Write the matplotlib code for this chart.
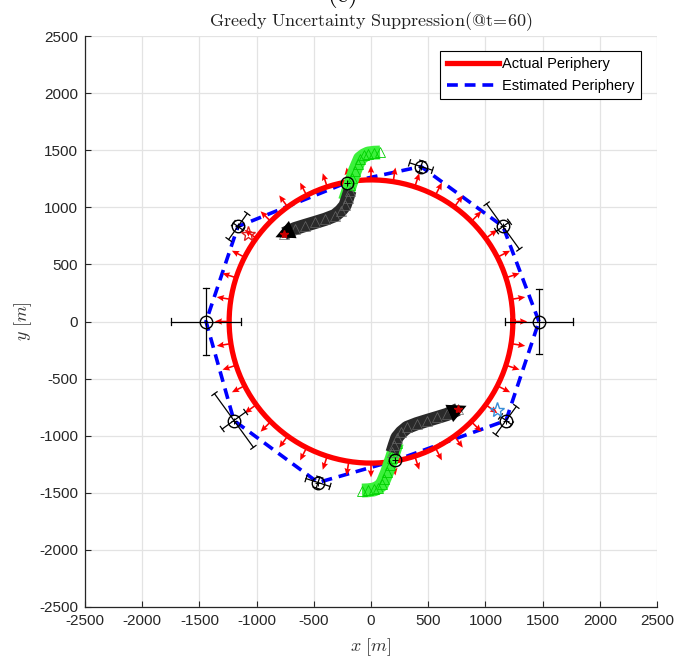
import numpy as np
import matplotlib.pyplot as plt

plt.rcParams['mathtext.fontset'] = 'cm'
plt.rcParams['font.family'] = ['Liberation Sans', 'DejaVu Sans']
plt.rcParams['axes.unicode_minus'] = False

# actual periphery (circle)
radius = 1240

# sensors (estimated positions) with tangential / radial uncertainty
sensor_x = [1468, 1154, 437, -1163, -1442, -1198, -463, 1180]
sensor_y = [0, 832, 1357, 832, 0, -867, -1410, -867]
err_tan = [285, 245, 105, 140, 290, 290, 110, 153]
err_rad = [300, 70, 50, 50, 306, 127, 50, 60]

# agents on the periphery
agent_x = [-210, 210]
agent_y = [1217, -1217]

# estimated periphery polygon (sensors + agents, ordered by angle)
est_x = [1468, 1154, 437, -210, -1163, -1442, -1198, -463, 210, 1180, 1468]
est_y = [0, 832, 1357, 1217, 832, 0, -867, -1410, -1217, -867, 0]

# agent trajectories (green = travelled, black = planned)
green_top_x = [-227, -205, -184, -162, -140, -118, -96, -60, -26, 25, 79]
green_top_y = [1060, 1125, 1191, 1256, 1322, 1375, 1427, 1455, 1471, 1478, 1480]
black_top_x = [-184, -205, -227, -265, -315, -400, -490, -580, -664, -760, -835]
black_top_y = [1147, 1080, 1016, 970, 928, 895, 867, 840, 814, 770, 738]
green_bot_x = [227, 205, 184, 162, 140, 118, 96, 60, 26, -25, -79]
green_bot_y = [-1060, -1125, -1191, -1256, -1322, -1375, -1427, -1455, -1471, -1478, -1480]
black_bot_x = [184, 205, 227, 265, 315, 400, 490, 580, 664, 760, 835]
black_bot_y = [-1147, -1080, -1016, -970, -928, -895, -867, -840, -814, -770, -738]

# stars
red_star = (-1075, 770)
blue_star = (1101, -779)

# outward arrows along the periphery
arrow_deg = np.arange(0, 360, 9)
arrow_len = 125

ticks = [-2500, -2000, -1500, -1000, -500, 0, 500, 1000, 1500, 2000, 2500]

fig = plt.figure(figsize=(6.76, 6.58), dpi=100)
ax = fig.add_axes([85 / 676, 1 - 607 / 658, 572 / 676, 571 / 658])

ax.plot(est_x, est_y, color='#0000ff', lw=2.6, ls=(0, (3.0, 1.9)), zorder=3,
        label='Estimated Periphery')
t = np.linspace(0, 2 * np.pi, 400)
ax.plot(radius * np.cos(t), radius * np.sin(t), color='#ff0000', lw=3.8, zorder=4,
        label='Actual Periphery')

a = np.deg2rad(arrow_deg)
ax.quiver(radius * np.cos(a), radius * np.sin(a), arrow_len * np.cos(a), arrow_len * np.sin(a),
          color='#ff0000', angles='xy', scale_units='xy', scale=1,
          width=0.0028, headwidth=4, headlength=4.5, headaxislength=4, zorder=5)

# error bars
cap = 28
for x, y, et, er in zip(sensor_x, sensor_y, err_tan, err_rad):
    th = np.arctan2(y, x)
    tv = np.array([-np.sin(th), np.cos(th)])
    rv = np.array([np.cos(th), np.sin(th)])
    p = np.array([x, y])
    for e, d, n in [(et, tv, rv), (er, rv, tv)]:
        a0, a1 = p - e * d, p + e * d
        ax.plot([a0[0], a1[0]], [a0[1], a1[1]], color='k', lw=0.9, zorder=6)
        for q in (a0, a1):
            ax.plot([q[0] - cap * n[0], q[0] + cap * n[0]], [q[1] - cap * n[1], q[1] + cap * n[1]],
                    color='k', lw=0.9, zorder=6)

ax.plot(sensor_x, sensor_y, 'o', ms=9, mfc='none', mec='k', mew=1.0, zorder=7)
ax.plot(sensor_x, sensor_y, '+', ms=4, color='k', mew=0.7, zorder=7)

# trajectories
for gx, gy in [(green_top_x, green_top_y), (green_bot_x, green_bot_y)]:
    ax.plot(gx, gy, color='#3cf03c', lw=10, solid_capstyle='butt', zorder=8)
    ax.plot(gx, gy, '^', ms=7, mfc='none', mec='#00d000', mew=0.6, zorder=8)
for bx, by in [(black_top_x, black_top_y), (black_bot_x, black_bot_y)]:
    ax.plot(bx[:-1], by[:-1], color='#2a2a2a', lw=9.5, solid_capstyle='butt', zorder=9)
    ax.plot(bx[:-1], by[:-1], '^', ms=7, mfc='none', mec='#666666', mew=0.5, zorder=9)
    ax.annotate('', xy=(bx[-1], by[-1]), xytext=(bx[-3], by[-3]),
                arrowprops=dict(arrowstyle='-|>', mutation_scale=34, color='k', lw=0,
                                shrinkA=0, shrinkB=0), zorder=10)
    ax.plot(bx[-2], by[-2], '*', ms=6, color='#cc0000', zorder=11)

ax.plot(agent_x, agent_y, 'o', ms=9, mfc='none', mec='k', mew=1.0, zorder=11)
ax.plot(agent_x, agent_y, '+', ms=4, color='k', mew=0.7, zorder=11)

ax.plot(*red_star, '*', ms=11, mfc='none', mec='#dd2222', mew=1.0, zorder=7)
ax.plot(*blue_star, '*', ms=11, mfc='none', mec='#3a8fd8', mew=1.0, zorder=7)

ax.set_xlim(-2500, 2500)
ax.set_ylim(-2500, 2500)
ax.set_xticks(ticks)
ax.set_yticks(ticks)
ax.tick_params(direction='in', labelsize=11, length=4, width=0.8, colors='#262626', pad=5)
ax.grid(True, color='#e3e3e3', lw=0.9)
ax.set_axisbelow(True)
for s in ['top', 'right']:
    ax.spines[s].set_visible(False)
for s in ['left', 'bottom']:
    ax.spines[s].set_color('#262626')
    ax.spines[s].set_linewidth(0.9)

ax.set_xlabel(r'$x\ [m]$', fontsize=13, color='#333333', labelpad=6)
ax.set_ylabel(r'$y\ [m]$', fontsize=13, color='#333333', labelpad=4)
ax.set_title(r'$\mathrm{Greedy\ Uncertainty\ Suppression(@t\!=\!60)}$', fontsize=13,
             color='#222222', pad=7)
fig.text(0.506, 1 - 2 / 658, r'$\mathrm{(c)}$', fontsize=18, ha='center', va='baseline')

h, l = ax.get_legend_handles_labels()
leg = ax.legend(h[::-1], l[::-1], loc='upper right', bbox_to_anchor=(0.972, 0.974), fontsize=10.5,
                fancybox=False, edgecolor='k', framealpha=1, handlelength=3.6,
                borderpad=0.45, labelspacing=0.5, handletextpad=0.2, borderaxespad=0)
leg.get_frame().set_linewidth(0.8)

fig.savefig('out.png', dpi=100)
